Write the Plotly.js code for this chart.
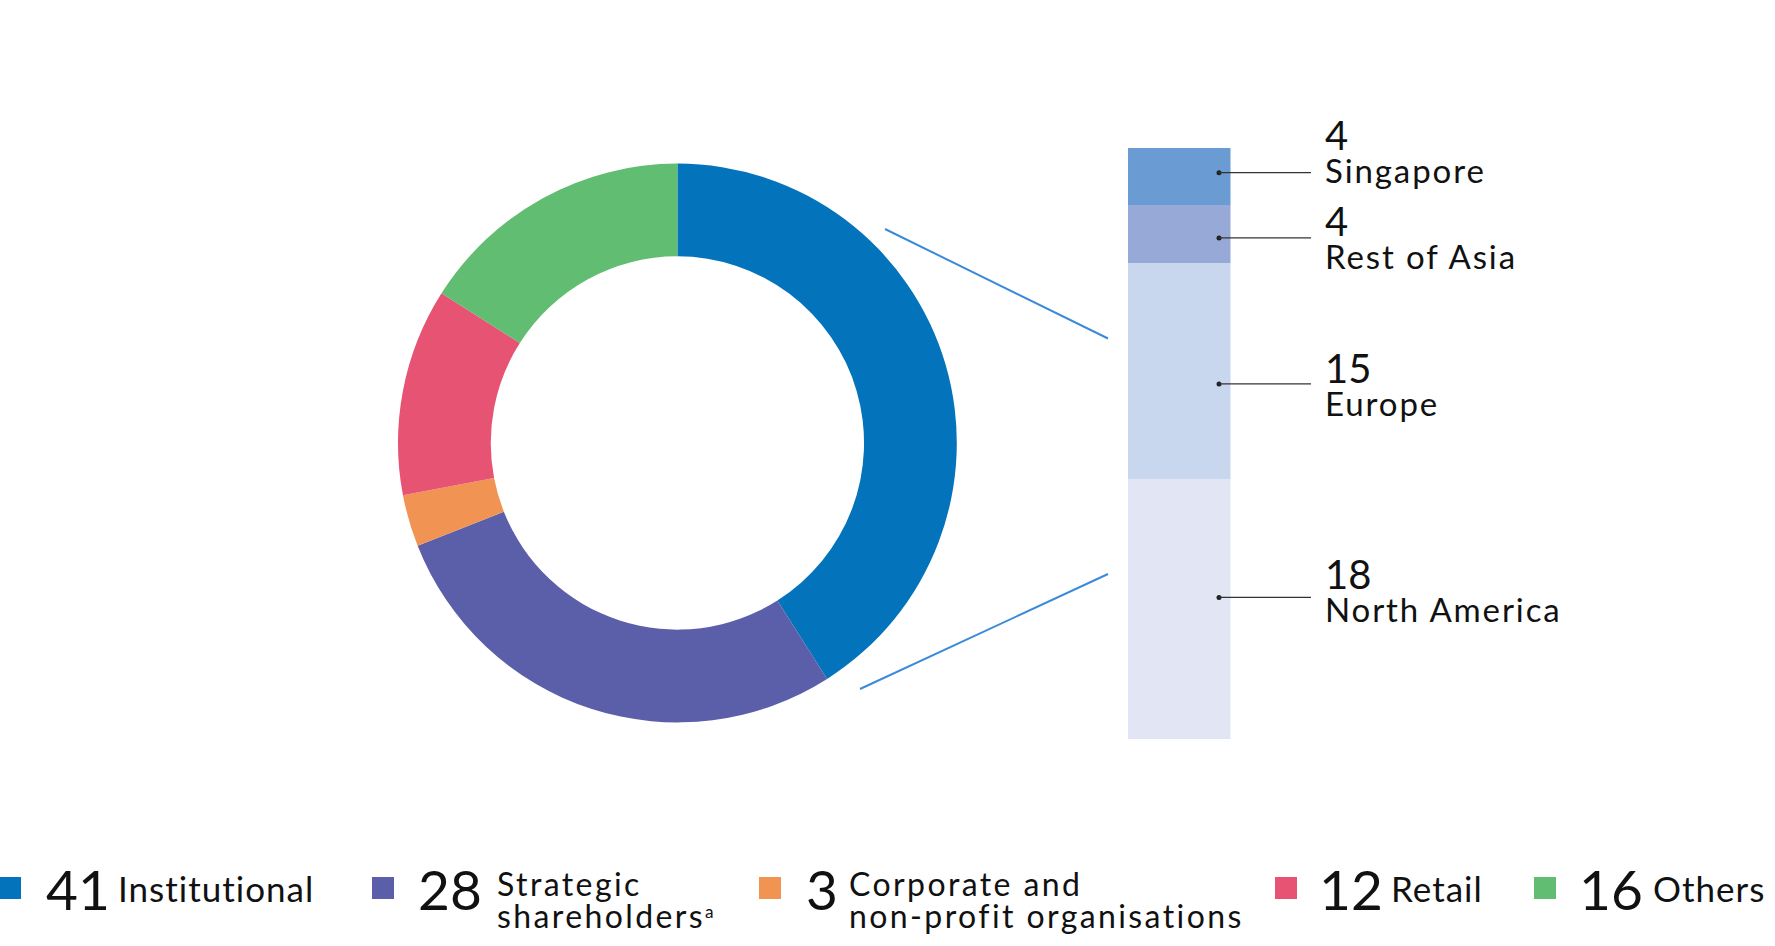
<!DOCTYPE html>
<html>
<head>
<meta charset="utf-8">
<script src="https://cdn.plot.ly/plotly-3.0.1.min.js"></script>
<style>
  html, body { margin: 0; padding: 0; background: #ffffff; }
  #chart { width: 1775px; height: 946px; }
</style>
</head>
<body>
<div id="chart"></div>
<script>
// ---------- DATA ----------
const segments = ['Institutional', 'Strategic shareholders', 'Corporate and non-profit organisations', 'Retail', 'Others'];
const segmentValues = [41, 28, 3, 12, 16];
const legendLines = [
  ['Institutional'],
  ['Strategic', 'shareholders'],
  ['Corporate and', 'non-profit organisations'],
  ['Retail'],
  ['Others']
];
const legendNotes = ['', 'a', '', '', ''];
const regions = ['Singapore', 'Rest of Asia', 'Europe', 'North America'];
const regionValues = [4, 4, 15, 18];

// ---------- STYLE / LAYOUT ----------
const W = 1775, H = 946;
const px = v => v / W;
const py = v => 1 - v / H;
const FONT = 'Lato, "Open Sans", sans-serif';
const INK = '#111111';
const segmentColors = ['#0373bb', '#5b5fa9', '#f09353', '#e65373', '#61bd71'];
const regionColors = ['#6b9bd3', '#97a9d6', '#c8d7ee', '#e1e5f4'];

// legend placement (pixels): square left, number left, label left
const legendPos = [
  { sq: -1, num: 44, lab: 116 },
  { sq: 372, num: 416, lab: 495 },
  { sq: 759, num: 804, lab: 847 },
  { sq: 1275, num: 1317, lab: 1389 },
  { sq: 1534, num: 1577, lab: 1651 }
];
// vertical nudges (px, downward) relative to each segment's middle
const labelNudge = [-26.5, 2.7, 12, -19.5];   // text block
const leaderNudge = [-3.9, 3.7, 12.7, -11.8];  // leader line + dot

// pie geometry
const pieCx = 677.4, pieCy = 443, pieR = 279.4;
// bar geometry
const barL = 1127.5, barR = 1230.5, barTop = 147.7, barBot = 739;

const total = regionValues.reduce((a, b) => a + b, 0);
const unitsPerPx = total / (barBot - barTop);

const traces = [];
traces.push({
  type: 'pie',
  labels: segments,
  values: segmentValues,
  marker: { colors: segmentColors, line: { width: 0 } },
  hole: 0.668,
  sort: false,
  direction: 'clockwise',
  rotation: 0,
  textinfo: 'none',
  hoverinfo: 'label+value',
  showlegend: false,
  domain: { x: [px(pieCx - pieR), px(pieCx + pieR)], y: [py(pieCy + pieR), py(pieCy - pieR)] }
});

// stacked bar: bottom-up order is reverse of list
const mids = [];
let cum = 0;
for (let i = regions.length - 1; i >= 0; i--) {
  traces.push({
    type: 'bar',
    x: [0],
    y: [regionValues[i]],
    width: [1],
    name: regions[i],
    marker: { color: regionColors[i], line: { width: 0 } },
    hoverinfo: 'name+y',
    showlegend: false,
    xaxis: 'x', yaxis: 'y'
  });
  mids[i] = cum + regionValues[i] / 2;
  cum += regionValues[i];
}
const leaderY = mids.map((m, i) => m - leaderNudge[i] * unitsPerPx);

// dots
const dotX = -0.5 + (1219 - barL) / (barR - barL);
traces.push({
  type: 'scatter',
  mode: 'markers',
  x: regions.map(() => dotX),
  y: leaderY,
  marker: { size: 5, color: '#222222' },
  hoverinfo: 'skip',
  showlegend: false,
  xaxis: 'x', yaxis: 'y'
});

const shapes = [];
const annotations = [];

// connector lines
shapes.push({ type: 'line', xref: 'paper', yref: 'paper', x0: px(885), y0: py(229), x1: px(1108), y1: py(338.5), line: { color: '#3b8ad9', width: 2 } });
shapes.push({ type: 'line', xref: 'paper', yref: 'paper', x0: px(860), y0: py(689), x1: px(1108), y1: py(574), line: { color: '#3b8ad9', width: 2 } });

// region leader lines + labels (number and name in one text block)
const NUM_R = 40, LAB_R = 33, GAP_R = 33;
regions.forEach((r, i) => {
  shapes.push({ type: 'line', xref: 'paper', yref: 'y', x0: px(1219), x1: px(1311), y0: leaderY[i], y1: leaderY[i], line: { color: '#333333', width: 1.3 } });
  annotations.push({
    xref: 'paper', yref: 'y', x: px(1323), y: mids[i], xanchor: 'left', yanchor: 'middle', align: 'left',
    yshift: -labelNudge[i], showarrow: false,
    text: '<span style="font-size:' + NUM_R + 'px">' + regionValues[i] + '</span><br>' +
          '<span style="font-size:' + LAB_R + 'px;letter-spacing:1.9px">' + r + '</span>',
    font: { family: FONT, size: GAP_R / 1.3, color: INK }
  });
});

// legend
const LEG_NUM = 55, LEG_ONE = 35, LEG_TWO = 32;
segments.forEach((s, i) => {
  const p = legendPos[i];
  shapes.push({ type: 'rect', xref: 'paper', yref: 'paper', x0: px(p.sq), x1: px(p.sq + 22), y0: py(899), y1: py(877), fillcolor: segmentColors[i], line: { width: 0 } });
  annotations.push({
    xref: 'paper', yref: 'paper', x: px(p.num), y: py(910 - 0.387 * LEG_NUM), xanchor: 'left', yanchor: 'middle', showarrow: false,
    text: String(segmentValues[i]), font: { family: FONT, size: LEG_NUM, color: INK }
  });
  const lines = legendLines[i];
  const note = legendNotes[i] ? '<sup>' + legendNotes[i] + '</sup>' : '';
  if (lines.length === 1) {
    annotations.push({
      xref: 'paper', yref: 'paper', x: px(p.lab), y: py(902 - 0.387 * LEG_ONE), xanchor: 'left', yanchor: 'middle', showarrow: false,
      text: '<span style="letter-spacing:1px">' + lines[0] + '</span>' + note,
      font: { family: FONT, size: LEG_ONE, color: INK }
    });
  } else {
    const txt = lines.map(ln => '<span style="font-size:' + LEG_TWO + 'px;letter-spacing:2.4px">' + ln + '</span>').join('<br>') + note;
    annotations.push({
      xref: 'paper', yref: 'paper', x: px(p.lab), y: py(899.6), xanchor: 'left', yanchor: 'middle', align: 'left', showarrow: false,
      text: txt,
      font: { family: FONT, size: LEG_TWO / 1.3, color: INK }
    });
  }
});

const layout = {
  width: W, height: H,
  margin: { l: 0, r: 0, t: 0, b: 0 },
  paper_bgcolor: '#ffffff', plot_bgcolor: 'rgba(0,0,0,0)',
  barmode: 'stack', bargap: 0,
  showlegend: false,
  font: { family: FONT, color: INK },
  xaxis: { domain: [px(barL), px(barR)], range: [-0.5, 0.5], visible: false, fixedrange: true },
  yaxis: { domain: [py(barBot), py(barTop)], range: [0, total], visible: false, fixedrange: true },
  shapes: shapes,
  annotations: annotations
};

Plotly.newPlot('chart', traces, layout, { displayModeBar: false, staticPlot: true });
</script>
</body>
</html>
